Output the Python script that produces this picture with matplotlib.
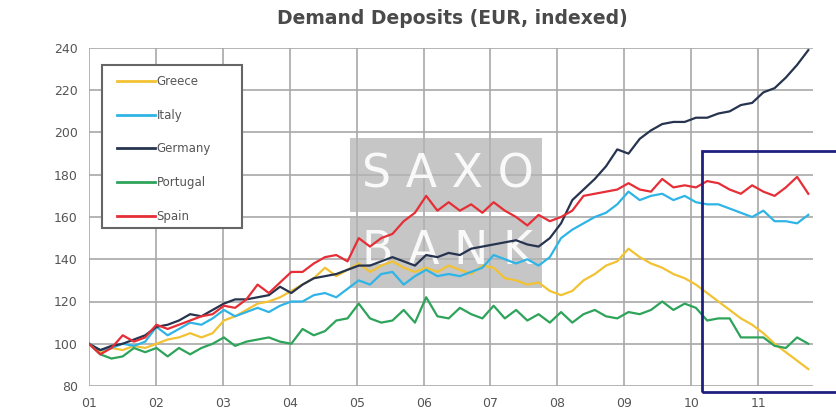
import numpy as np
import matplotlib
matplotlib.use('Agg')
import matplotlib.pyplot as plt
from matplotlib.patches import Rectangle

plt.rcParams['font.family'] = ['DejaVu Sans']

# 两个月一个点, 2001-01 .. 2011-10
t = np.linspace(2001, 2011.75, 65)

greece = [100, 96, 98, 97, 99, 98,
          100, 102, 103, 105, 103, 105,
          111, 113, 116, 119, 120, 122,
          125, 128, 131, 136, 132, 135,
          138, 134, 137, 139, 136, 134,
          136, 134, 137, 135, 133, 137,
          136, 131, 130, 128, 129, 125,
          123, 125, 130, 133, 137, 139,
          145, 141, 138, 136, 133, 131,
          128, 124, 120, 116, 112, 109,
          105, 100, 96, 92, 88]
italy = [100, 97, 98, 100, 99, 101,
         108, 104, 107, 110, 109, 112,
         116, 113, 115, 117, 115, 118,
         120, 120, 123, 124, 122, 126,
         130, 128, 133, 134, 128, 132,
         135, 132, 133, 132, 134, 136,
         142, 140, 138, 140, 137, 141,
         150, 154, 157, 160, 162, 166,
         172, 168, 170, 171, 168, 170,
         167, 166, 166, 164, 162, 160,
         163, 158, 158, 157, 161]
germany = [100, 97, 99, 100, 102, 104,
           108, 109, 111, 114, 113, 116,
           119, 121, 121, 122, 123, 127,
           124, 128, 131, 132, 133, 135,
           137, 137, 139, 141, 139, 137,
           142, 141, 143, 142, 145, 146,
           147, 148, 149, 147, 146, 150,
           157, 168, 173, 178, 184, 192,
           190, 197, 201, 204, 205, 205,
           207, 207, 209, 210, 213, 214,
           219, 221, 226, 232, 239]
portugal = [100, 95, 93, 94, 98, 96,
            98, 94, 98, 95, 98, 100,
            103, 99, 101, 102, 103, 101,
            100, 107, 104, 106, 111, 112,
            119, 112, 110, 111, 116, 110,
            122, 113, 112, 117, 114, 112,
            118, 112, 116, 111, 114, 110,
            115, 110, 114, 116, 113, 112,
            115, 114, 116, 120, 116, 119,
            117, 111, 112, 112, 103, 103,
            103, 99, 98, 103, 100]
spain = [100, 95, 98, 104, 101, 103,
         109, 107, 109, 111, 113, 114,
         118, 117, 121, 128, 124, 129,
         134, 134, 138, 141, 142, 139,
         150, 146, 150, 152, 158, 162,
         170, 163, 167, 163, 166, 162,
         167, 163, 160, 156, 161, 158,
         160, 163, 170, 171, 172, 173,
         176, 173, 172, 178, 174, 175,
         174, 177, 176, 173, 171, 175,
         172, 170, 174, 179, 171]

names = ['Greece', 'Italy', 'Germany', 'Portugal', 'Spain']
colors = ['#f2c233', '#2fb4e6', '#26344f', '#2ea35a', '#e62e36']
series = [greece, italy, germany, portugal, spain]

years = list(range(2001, 2012))
year_labels = ['%02d' % (y - 2000) for y in years]
y_ticks = list(range(80, 241, 20))

W, H = 837, 418
fig = plt.figure(figsize=(W / 100, H / 100), dpi=100)
ax = fig.add_axes([89 / W, (H - 386) / H, (813 - 89) / W, (386 - 48) / H])

# 折线
for name, col, s in zip(names, colors, series):
    ax.plot(t, s, color=col, lw=1.6, label=name, zorder=4)

ax.set_xlim(2001, 2011.82)
ax.set_ylim(80, 240)
ax.set_xticks(years)
ax.set_xticklabels(year_labels)
ax.set_yticks(y_ticks)
for sp in ax.spines.values():
    sp.set_visible(False)
ax.grid(True, color='#a8a8a8', lw=1.2, zorder=1)
ax.set_axisbelow(True)
ax.tick_params(length=0, colors='#555555', labelsize=9, pad=8)

# 标题
fig.text(452 / W, 1 - 19 / H, 'Demand Deposits (EUR, indexed)', ha='center', va='center',
         fontsize=13.5, fontweight='bold', color='#4a4a4a')

ft = fig.transFigure

def fig_rect(x0, y0, x1, y1, **kw):
    # 像素坐标 -> figure 坐标
    r = Rectangle((x0 / W, 1 - y1 / H), (x1 - x0) / W, (y1 - y0) / H,
                  transform=ft, clip_on=False, **kw)
    ax.add_patch(r)
    return r

# 水印
for (y0, y1, txt) in [(138, 212, 'S A X O'), (216, 288, 'B A N K')]:
    fig_rect(350, y0, 542, y1, facecolor='#b4b4b4', edgecolor='none', alpha=0.75, zorder=2)
    ax.text(448 / W, 1 - (y0 + y1) / 2 / H, txt, ha='center', va='center', transform=ft,
            fontsize=33, color='white', alpha=0.9, zorder=3)

# 高亮框
fig_rect(702, 151, 900, 392, facecolor='none', edgecolor='#1f1f80', lw=2, zorder=6)

# 图例
fig_rect(102, 65, 242, 228, facecolor='white', edgecolor='#666666', lw=1.5, zorder=7)
leg = ax.legend(loc='upper left', bbox_to_anchor=(117 / W, 1 - 75 / H),
                bbox_transform=ft, frameon=False, fontsize=8.5,
                handlelength=3.2, handletextpad=0.15, labelspacing=1.75,
                borderpad=0, borderaxespad=0)
leg.set_zorder(8)
for txt in leg.get_texts():
    txt.set_color('#555555')
for ln in leg.get_lines():
    ln.set_linewidth(2)

plt.savefig('out.png', dpi=100)
plt.close()
